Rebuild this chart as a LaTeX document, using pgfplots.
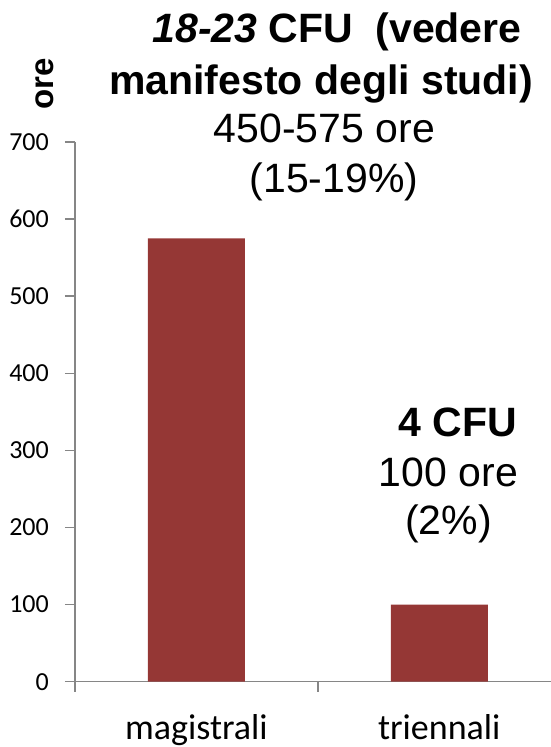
\documentclass[border=0pt]{standalone}
\usepackage{pgfplots}
\pgfplotsset{compat=1.18}
\usepackage{fontspec}
\setmainfont{Liberation Sans}
\newfontfamily\calibri{Carlito}
\definecolor{barred}{RGB}{149,55,53}
\definecolor{axgray}{RGB}{134,134,134}
\begin{document}
\begin{tikzpicture}
\useasboundingbox (0pt,0pt) rectangle (551pt,747pt);
\begin{axis}[
  at={(75pt,65.3pt)}, anchor=south west,
  scale only axis, width=476pt, height=539.7pt,
  xmin=-0.5, xmax=1.46, ymin=0, ymax=700,
  axis x line*=bottom, axis y line*=left,
  axis line style={draw=axgray, line width=1.5pt, -},
  every tick/.style={draw=axgray, line width=1.5pt},
  tick align=outside, major tick length=10pt,
  ybar, bar width=97pt,
  xtick={-0.5,0.5}, xticklabels={},
  extra x ticks={0,1}, extra x tick labels={magistrali,triennali},
  extra x tick style={major tick length=0pt},
  xticklabel style={font=\calibri\fontsize{36}{40}\selectfont, anchor=base, yshift=-58pt},
  ytick={0,100,...,700},
  yticklabels={0,100,200,300,400,500,600,700},
  y tick label style={font=\calibri\fontsize{26}{30}\selectfont, anchor=east, inner sep=0pt, xshift=-16pt},
]
\addplot[fill=barred, draw=none] coordinates {(0,575) (1,100)};
\end{axis}
\node[rotate=90, font=\fontsize{33}{36}\selectfont\bfseries] at (45pt,663pt) {ore};
\begin{scope}[every node/.style={anchor=base, inner sep=0pt, font=\fontsize{41}{50}\selectfont}]
\node at (337pt,704pt) {\bfseries\itshape 18-23\upshape\ CFU\ \ (vedere};
\node at (321pt,652pt) {\bfseries manifesto degli studi)};
\node at (324.5pt,604pt) {450-575 ore};
\node at (334pt,554pt) {(15-19\%)};
\node at (458pt,310pt) {\bfseries 4 CFU};
\node at (448.5pt,260pt) {100 ore};
\node at (448.5pt,212pt) {(2\%)};
\end{scope}
\end{tikzpicture}
\end{document}
